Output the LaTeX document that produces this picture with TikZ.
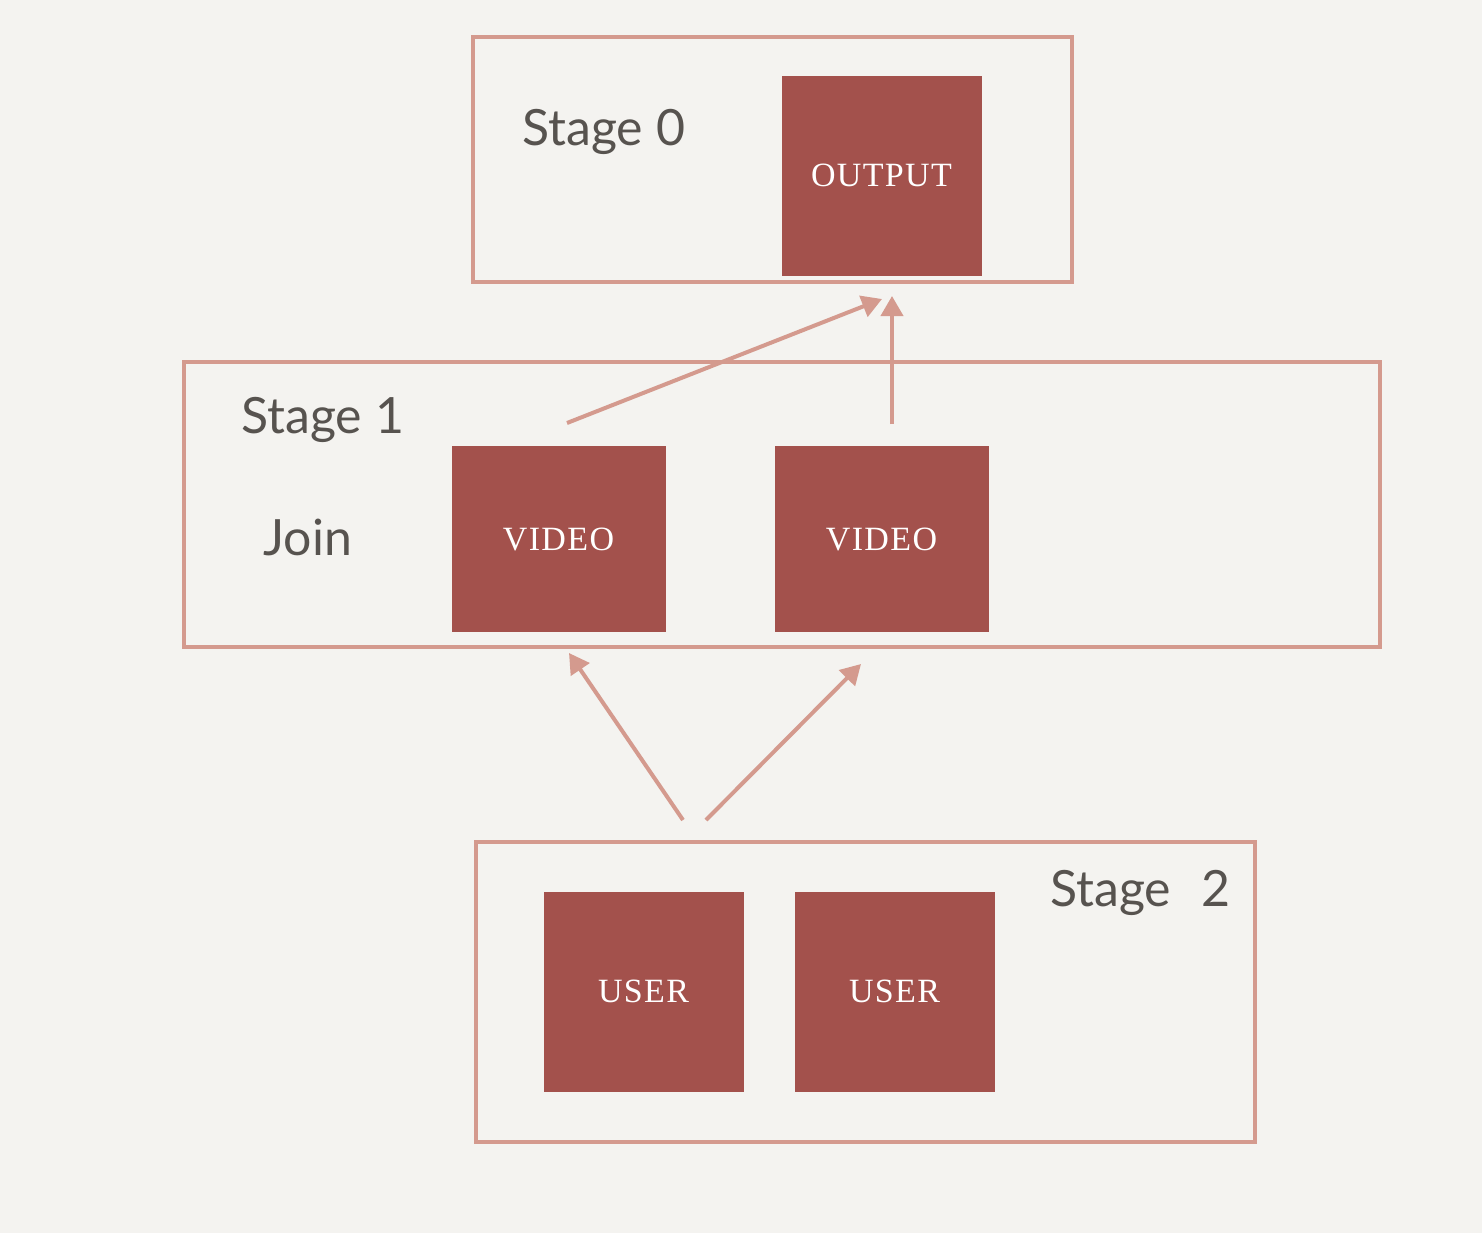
\documentclass[tikz,border=0pt]{standalone}
\usepackage{fontspec}
\setmainfont{Liberation Serif}
\newfontfamily\labelfont{Lato}
\newfontfamily\boxfont[LetterSpace=4]{Liberation Serif}
\usetikzlibrary{arrows.meta}
\definecolor{bgc}{HTML}{F4F3F0}
\definecolor{edgec}{HTML}{D49A8E}
\definecolor{fillc}{HTML}{A3514C}
\definecolor{txtc}{HTML}{57534F}
\tikzset{
  stagebox/.style={draw=edgec, line width=1.6pt},
  datbox/.style={fill=fillc, draw=none, text=white, font=\boxfont\fontsize{17}{19}\selectfont, inner sep=0pt},
  stagelabel/.style={text=txtc, font=\labelfont\fontsize{25}{30}\selectfont, inner sep=0pt},
  flow/.style={draw=edgec, line width=2pt, -{Triangle[length=10pt,width=11pt]}}
}
\begin{document}
\begin{tikzpicture}[x=0.5pt,y=-0.5pt]
\useasboundingbox (0,0) rectangle (1482,1232);
\fill[bgc] (-5,-5) rectangle (1487,1237);
% stage boxes
\draw[stagebox] (473,37) rectangle (1072,282);
\draw[stagebox] (184,362) rectangle (1380,647);
\draw[stagebox] (476,842) rectangle (1255,1142);
% data boxes
\node[datbox, minimum width=100pt, minimum height=100pt] (output) at (881.5,175.5) {OUTPUT};
\node[datbox, minimum width=107pt, minimum height=93pt] (video1) at (558.5,539) {VIDEO};
\node[datbox, minimum width=107pt, minimum height=93pt] (video2) at (881.5,539) {VIDEO};
\node[datbox, minimum width=100pt, minimum height=100pt] (user1) at (643.5,991.5) {USER};
\node[datbox, minimum width=100pt, minimum height=100pt] (user2) at (894.5,991.5) {USER};
% labels
\node[stagelabel, anchor=base west] (s0) at (522,145) {Stage 0};
\node[stagelabel, anchor=base west] (s1) at (241,433) {Stage 1};
\node[stagelabel, anchor=base west] (join) at (263,555) {Join};
\node[stagelabel, anchor=base west] (s2) at (1050,906) {Stage\hspace{15pt}2};
% arrow coordinates
\coordinate (a1s) at (567,423);
\coordinate (a1e) at (882,299);
\coordinate (a2s) at (892,424);
\coordinate (a2e) at (892,296);
\coordinate (a3s) at (683,820);
\coordinate (a3e) at (569,653);
\coordinate (a4s) at (706,820);
\coordinate (a4e) at (861,664);
\draw[flow] (a1s) -- (a1e);
\draw[flow] (a2s) -- (a2e);
\draw[flow] (a3s) -- (a3e);
\draw[flow] (a4s) -- (a4e);
\end{tikzpicture}
\end{document}
